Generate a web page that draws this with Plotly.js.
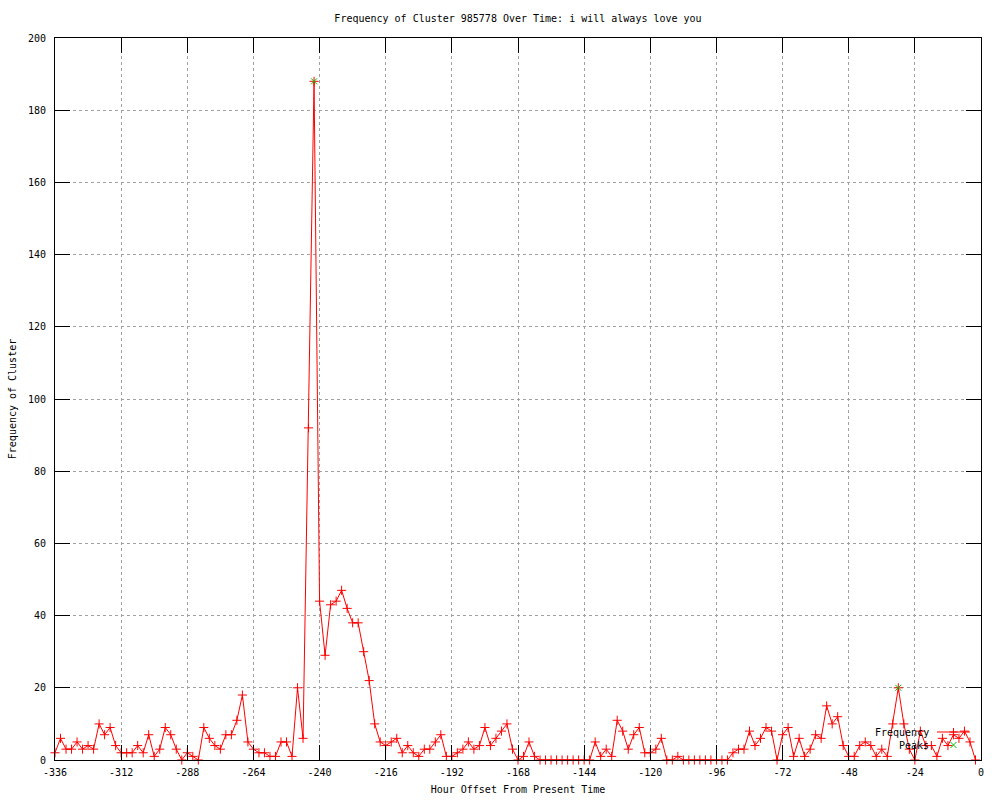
<!DOCTYPE html>
<html>
<head>
<meta charset="utf-8">
<script src="https://cdn.plot.ly/plotly-3.0.1.min.js"></script>
<style>
  html, body { margin: 0; padding: 0; background: #ffffff; }
  #chart { width: 1000px; height: 800px; }
</style>
</head>
<body>
<div id="chart"></div>
<script>
// Hour offsets (every 2 hours)
const hours = [
  -336,-334,-332,-330,-328,-326,-324,-322,-320,-318,-316,-314,-312,-310,-308,-306,-304,-302,-300,-298,-296,-294,-292,-290,
  -288,-286,-284,-282,-280,-278,-276,-274,-272,-270,-268,-266,-264,-262,-260,-258,-256,-254,-252,-250,-248,-246,-244,-242,
  -240,-238,-236,-234,-232,-230,-228,-226,-224,-222,-220,-218,-216,-214,-212,-210,-208,-206,-204,-202,-200,-198,-196,-194,
  -192,-190,-188,-186,-184,-182,-180,-178,-176,-174,-172,-170,-168,-166,-164,-162,-160,-158,-156,-154,-152,-150,-148,-146,
  -144,-142,-140,-138,-136,-134,-132,-130,-128,-126,-124,-122,-120,-118,-116,-114,-112,-110,-108,-106,-104,-102,-100,-98,
  -96,-94,-92,-90,-88,-86,-84,-82,-80,-78,-76,-74,-72,-70,-68,-66,-64,-62,-60,-58,-56,-54,-52,-50,
  -48,-46,-44,-42,-40,-38,-36,-34,-32,-30,-28,-26,-24,-22,-20,-18,-16,-14,-12,-10,-8,-6,-4,-2
];

// Cluster frequency per time step
const frequency = [
  2,6,3,3,5,3,4,3,10,7,9,4,2,2,2,4,2,7,1,3,9,7,3,0,
  2,1,0,9,6,4,3,7,7,11,18,5,3,2,2,1,1,5,5,1,20,6,92,188,
  44,29,43,44,47,42,38,38,30,22,10,5,4,5,6,2,4,2,1,3,3,5,7,1,
  1,2,3,5,3,4,9,4,6,8,10,3,0,1,5,1,0,0,0,0,0,0,0,0,
  0,0,5,1,3,1,11,8,3,7,9,2,2,3,6,0,0,1,0,0,0,0,0,0,
  0,0,0,2,3,3,8,4,6,9,8,0,7,9,1,6,1,3,7,6,15,10,12,4,
  1,1,4,5,4,1,3,1,10,20,10,3,0,8,4,4,1,6,4,7,6,8,5,0
];

// Detected peaks
const peakHours = [-242, -30];
const peakValues = [188, 20];

// Axis ticks
const xTicks = [-336,-312,-288,-264,-240,-216,-192,-168,-144,-120,-96,-72,-48,-24,0];
const xTickLabels = ["-336","-312","-288","-264","-240","-216","-192","-168","-144","-120","-96","-72","-48","-24","0"];
const yTicks = [0,20,40,60,80,100,120,140,160,180,200];
const yTickLabels = ["0","20","40","60","80","100","120","140","160","180","200"];

const titleText = "Frequency of Cluster 985778 Over Time: i will always love you";
const xTitle = "Hour Offset From Present Time";
const yTitle = "Frequency of Cluster";
const legendNames = ["Frequency", "Peaks"];

const FONT = "DejaVu Sans Mono, monospace";
const RED = "#ff0000";
const GREEN = "#00c000";

const traces = [
  {
    type: "scatter",
    mode: "lines+markers",
    name: legendNames[0],
    x: hours,
    y: frequency,
    line: { color: RED, width: 1 },
    marker: { symbol: "cross-thin-open", size: 6.5, color: RED, line: { color: RED, width: 1 } },
    showlegend: false,
    cliponaxis: false
  },
  {
    type: "scatter",
    mode: "markers",
    name: legendNames[1],
    x: peakHours,
    y: peakValues,
    marker: { symbol: "x-thin-open", size: 6, color: GREEN, line: { color: GREEN, width: 1 } },
    showlegend: false,
    cliponaxis: false
  }
];

// Legend geometry (gnuplot-style key: text right-aligned, sample to its right)
const L = 55, R = 981, T = 38, B = 760;
const px = v => (v - L) / (R - L);
const py = v => (B - v) / (B - T);
const keyTextX = px(931);
const keyY1 = py(732);
const keyY2 = py(745);
const sampleMid = px(953.5);

const shapes = [
  { type: "line", xref: "paper", yref: "paper", x0: px(937), x1: px(970), y0: keyY1, y1: keyY1,
    line: { color: RED, width: 1 } },
  { type: "line", xref: "paper", yref: "paper", xsizemode: "pixel", ysizemode: "pixel",
    xanchor: sampleMid, yanchor: keyY1, x0: -4, x1: 4, y0: 0, y1: 0, line: { color: RED, width: 1 } },
  { type: "line", xref: "paper", yref: "paper", xsizemode: "pixel", ysizemode: "pixel",
    xanchor: sampleMid, yanchor: keyY1, x0: 0, x1: 0, y0: -4, y1: 4, line: { color: RED, width: 1 } },
  { type: "line", xref: "paper", yref: "paper", xsizemode: "pixel", ysizemode: "pixel",
    xanchor: sampleMid, yanchor: keyY2, x0: -3, x1: 3, y0: -3, y1: 3, line: { color: GREEN, width: 1 } },
  { type: "line", xref: "paper", yref: "paper", xsizemode: "pixel", ysizemode: "pixel",
    xanchor: sampleMid, yanchor: keyY2, x0: -3, x1: 3, y0: 3, y1: -3, line: { color: GREEN, width: 1 } }
];

const annotations = [
  { xref: "paper", yref: "paper", x: keyTextX, y: keyY1, xanchor: "right", yanchor: "middle",
    text: legendNames[0], showarrow: false, font: { family: FONT, size: 10, color: "#000" } },
  { xref: "paper", yref: "paper", x: keyTextX, y: keyY2, xanchor: "right", yanchor: "middle",
    text: legendNames[1], showarrow: false, font: { family: FONT, size: 10, color: "#000" } }
];

const layout = {
  width: 1000,
  height: 800,
  paper_bgcolor: "#ffffff",
  plot_bgcolor: "#ffffff",
  margin: { l: 55, r: 19, t: 38, b: 40, pad: 0 },
  font: { family: FONT, size: 10, color: "#000" },
  title: {
    text: titleText,
    font: { family: FONT, size: 10, color: "#000" },
    x: 0.5, xref: "paper", xanchor: "center",
    y: 1 - 18 / 800, yref: "container", yanchor: "middle"
  },
  xaxis: {
    range: [-336, 0],
    tickmode: "array",
    tickvals: xTicks,
    ticktext: xTickLabels,
    ticks: "inside",
    ticklen: 15,
    tickwidth: 1,
    tickcolor: "#000",
    showline: true,
    linecolor: "#000",
    linewidth: 1,
    mirror: "ticks",
    showgrid: true,
    gridcolor: "#a0a0a0",
    griddash: "dot",
    gridwidth: 1,
    zeroline: false,
    automargin: false,
    ticklabelstandoff: 3,
    tickfont: { family: FONT, size: 10, color: "#000" },
    title: { text: xTitle, font: { family: FONT, size: 10, color: "#000" }, standoff: 8 }
  },
  yaxis: {
    range: [0, 200],
    tickmode: "array",
    tickvals: yTicks,
    ticktext: yTickLabels,
    ticks: "inside",
    ticklen: 15,
    tickwidth: 1,
    tickcolor: "#000",
    showline: true,
    linecolor: "#000",
    linewidth: 1,
    mirror: "ticks",
    showgrid: true,
    gridcolor: "#a0a0a0",
    griddash: "dot",
    gridwidth: 1,
    zeroline: false,
    automargin: false,
    ticklabelstandoff: 6,
    tickfont: { family: FONT, size: 10, color: "#000" },
    title: { text: yTitle, font: { family: FONT, size: 10, color: "#000" }, standoff: 9 }
  },
  shapes: shapes,
  annotations: annotations,
  showlegend: false
};

Plotly.newPlot("chart", traces, layout, { staticPlot: true, displayModeBar: false });
</script>
</body>
</html>
